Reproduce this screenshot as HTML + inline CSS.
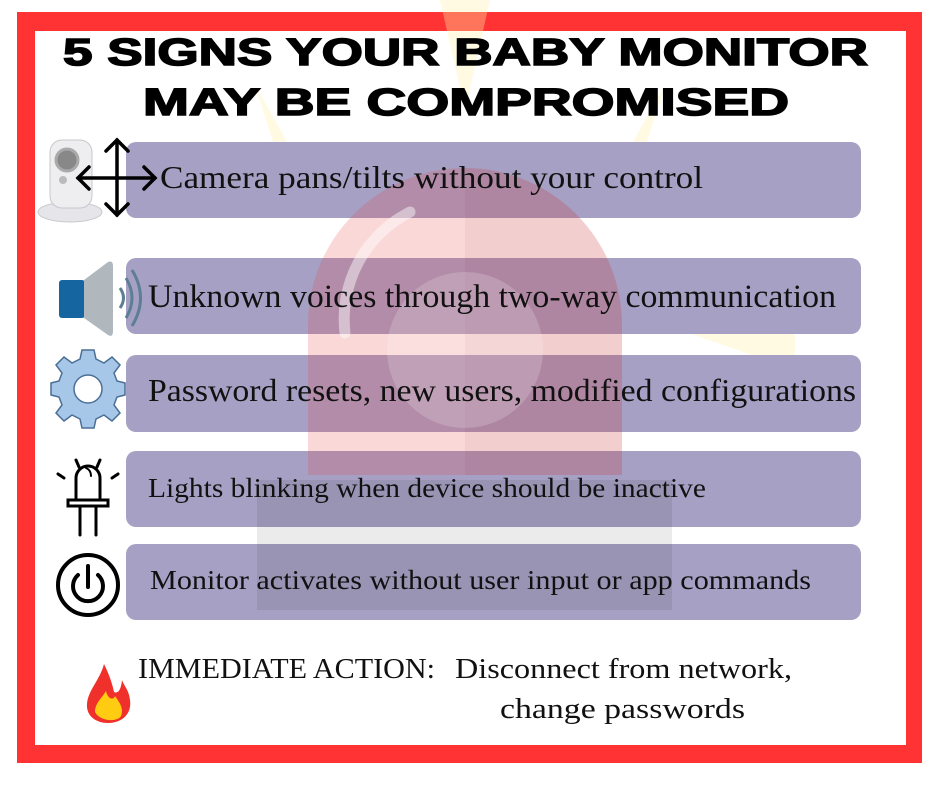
<!DOCTYPE html>
<html><head><meta charset="utf-8"><style>html,body{margin:0;padding:0;background:#fff}svg{display:block}</style></head><body>
<svg width="940" height="788" viewBox="0 0 940 788" xmlns="http://www.w3.org/2000/svg">
<rect width="940" height="788" fill="#fff"/>
<!-- red frame -->
<rect x="17" y="12" width="905" height="751" fill="#ff3333"/>
<rect x="35" y="31" width="871" height="714" fill="#fff"/>
<!-- faint yellow rays -->
<g fill="#fff2a8" opacity="0.35">
<polygon points="440,0 490,0 465,110"/>
<polygon points="255,85 300,165 282,170"/>
<polygon points="665,85 620,165 638,170"/>
<polygon points="150,330 300,330 250,300"/>
<polygon points="795,300 795,370 680,330"/>
</g>
<!-- bars -->
<g fill="#a6a0c4">
<rect x="126" y="142" width="735" height="76" rx="10"/>
<rect x="126" y="258" width="735" height="76" rx="10"/>
<rect x="126" y="355" width="735" height="77" rx="10"/>
<rect x="126" y="451" width="735" height="76" rx="10"/>
<rect x="126" y="544" width="735" height="76" rx="10"/>
</g>
<!-- siren dome overlay -->
<path d="M308,475 L308,325 A157,157 0 0 1 622,325 L622,475 Z" fill="#e83a3a" opacity="0.2"/>
<path d="M465,168 A157,157 0 0 1 622,325 L622,475 L465,475 Z" fill="#8a3030" opacity="0.06"/>
<path d="M345,333 A120,120 0 0 1 410,212" fill="none" stroke="#fff" stroke-width="11" stroke-linecap="round" opacity="0.45"/>
<circle cx="465" cy="350" r="78" fill="#fff" opacity="0.18"/>
<rect x="257" y="480" width="415" height="130" fill="#000" opacity="0.08"/>
<!-- title -->
<g font-family="Liberation Sans, sans-serif" font-weight="900" fill="#000" stroke="#000" stroke-width="1.5">
<text x="63" y="65" font-size="38" textLength="805" lengthAdjust="spacingAndGlyphs">5 SIGNS YOUR BABY MONITOR</text>
<text x="143" y="115" font-size="38" textLength="646" lengthAdjust="spacingAndGlyphs">MAY BE COMPROMISED</text>
</g>
<!-- bar texts -->
<g font-family="Liberation Serif, serif" fill="#111">
<text x="160" y="188" font-size="32" textLength="543" lengthAdjust="spacingAndGlyphs">Camera pans/tilts  without your control</text>
<text x="148" y="307" font-size="33" textLength="688" lengthAdjust="spacingAndGlyphs">Unknown voices through two-way communication</text>
<text x="148" y="401" font-size="32" textLength="708" lengthAdjust="spacingAndGlyphs">Password resets, new users, modified configurations</text>
<text x="148" y="497" font-size="27" textLength="558" lengthAdjust="spacingAndGlyphs">Lights blinking when device should be inactive</text>
<text x="150" y="589" font-size="27" textLength="661" lengthAdjust="spacingAndGlyphs">Monitor activates without user input or app commands</text>
<text x="138" y="678" font-size="29" textLength="297" lengthAdjust="spacingAndGlyphs">IMMEDIATE ACTION:</text>
<text x="455" y="678" font-size="29" textLength="337" lengthAdjust="spacingAndGlyphs">Disconnect from network,</text>
<text x="500" y="718" font-size="29" textLength="245" lengthAdjust="spacingAndGlyphs">change passwords</text>
</g>
<!-- camera icon -->
<g>
<ellipse cx="70" cy="212" rx="32" ry="10" fill="#e6e6ea" stroke="#c8c8cc"/>
<rect x="50" y="140" width="42" height="68" rx="12" fill="#eeeef0" stroke="#c8c8cc"/>
<circle cx="67" cy="160" r="11" fill="#888" stroke="#aaa" stroke-width="3"/>
<circle cx="63" cy="180" r="4" fill="#bbb"/>
</g>
<!-- arrows -->
<g stroke="#000" stroke-width="3.5" fill="none" stroke-linecap="round">
<line x1="117" y1="140" x2="117" y2="215"/>
<line x1="78" y1="178" x2="155" y2="178"/>
<polyline points="106,151 117,140 128,151"/>
<polyline points="106,204 117,215 128,204"/>
<polyline points="89,167 78,178 89,189"/>
<polyline points="144,167 155,178 144,189"/>
</g>
<!-- speaker -->
<rect x="59" y="280" width="26" height="38" rx="3" fill="#1566a0"/>
<path d="M84,280 L108,262 Q113,260 113,266 L113,331 Q113,338 108,335 L84,318 Z" fill="#b0b8be"/>
<g stroke="#5d7f92" stroke-width="3" fill="none">
<path d="M120,288 Q127,298 120,308"/>
<path d="M126,278 Q138,298 126,318"/>
<path d="M132,270 Q149,298 132,326"/>
</g>
<!-- gear -->
<g transform="translate(88,389)">
<g fill="#a7c7e8" stroke="#4a6f94" stroke-width="1.5">
<path d="M-6,-35 L6,-35 L8,-26 L16,-22 L24,-28 L32,-20 L26,-12 L29,-4 L37,-2 L37,10 L29,12 L26,20 L32,28 L24,36 L16,30 L8,34 L6,43 L-6,43 L-8,34 L-16,30 L-24,36 L-32,28 L-26,20 L-29,12 L-37,10 L-37,-2 L-29,-4 L-26,-12 L-32,-20 L-24,-28 L-16,-22 L-8,-26 Z" transform="translate(0,-4)"/>
</g>
<circle cx="0" cy="0" r="14" fill="#fff" stroke="#4a6f94" stroke-width="1.5"/>
</g>
<!-- LED -->
<g stroke="#000" stroke-width="3" fill="none" stroke-linecap="round">
<path d="M76,478 L76,500 L100,500 L100,478 A12,12 0 0 0 76,478 Z"/>
<rect x="68" y="500" width="40" height="6"/>
<line x1="80" y1="506" x2="80" y2="535"/>
<line x1="96" y1="506" x2="96" y2="535"/>
<path d="M91,476 Q91,470 86,468" stroke-width="2"/>
<line x1="76" y1="460" x2="79" y2="467"/>
<line x1="100" y1="460" x2="97" y2="467"/>
<line x1="58" y1="474" x2="64" y2="478"/>
<line x1="118" y1="474" x2="112" y2="478"/>
</g>
<!-- power -->
<circle cx="88" cy="585" r="30" fill="none" stroke="#000" stroke-width="4"/>
<path d="M78,575 A15,15 0 1 0 98,575" fill="none" stroke="#000" stroke-width="4" stroke-linecap="round"/>
<line x1="88" y1="566" x2="88" y2="587" stroke="#000" stroke-width="4" stroke-linecap="round"/>
<!-- fire -->
<path d="M104,664 C100,680 88,690 87,704 C86,716 96,723 108,723 C122,723 132,714 130,700 C129,690 124,686 122,680 C121,690 118,694 114,692 C112,682 108,672 104,664 Z" fill="#f0302a"/>
<path d="M95,712 C95,703 102,698 106,691 C108,700 114,700 115,696 C120,703 124,709 121,716 C118,722 100,722 95,712 Z" fill="#ffcc11"/>
</svg>
</body></html>
